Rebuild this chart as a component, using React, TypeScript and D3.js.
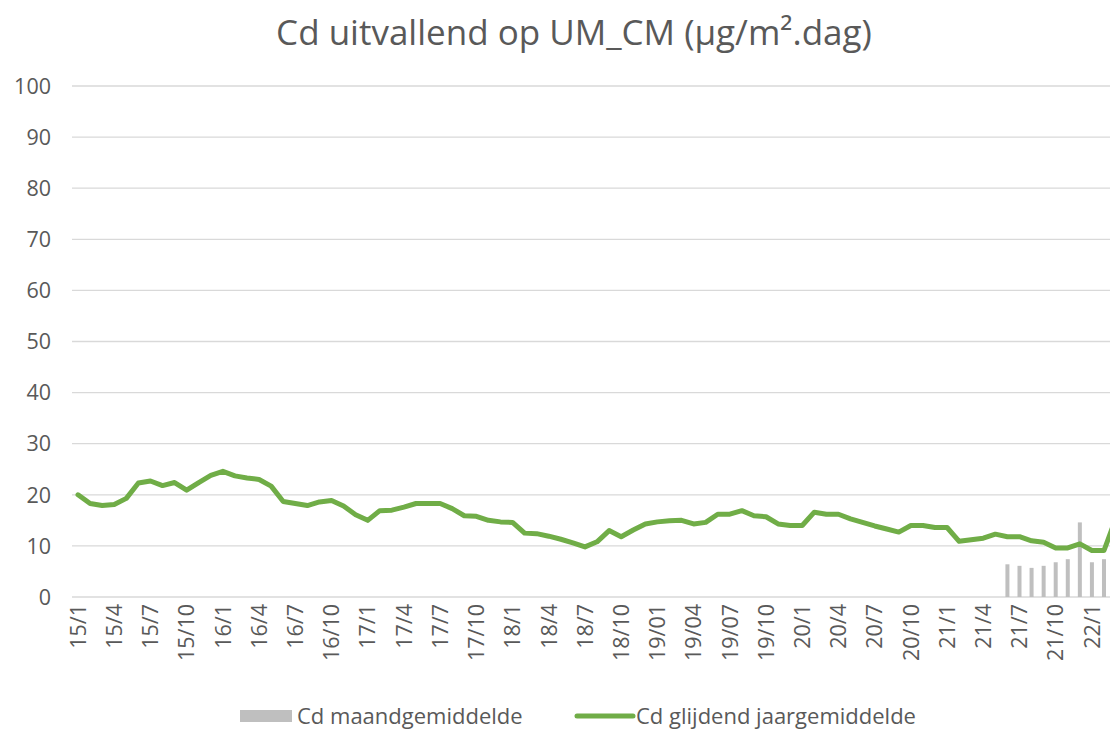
import React from "react";
import * as d3 from "d3";

const categories = [
  "2015-01","2015-02","2015-03","2015-04","2015-05","2015-06","2015-07","2015-08","2015-09","2015-10","2015-11","2015-12",
  "2016-01","2016-02","2016-03","2016-04","2016-05","2016-06","2016-07","2016-08","2016-09","2016-10","2016-11","2016-12",
  "2017-01","2017-02","2017-03","2017-04","2017-05","2017-06","2017-07","2017-08","2017-09","2017-10","2017-11","2017-12",
  "2018-01","2018-02","2018-03","2018-04","2018-05","2018-06","2018-07","2018-08","2018-09","2018-10","2018-11","2018-12",
  "2019-01","2019-02","2019-03","2019-04","2019-05","2019-06","2019-07","2019-08","2019-09","2019-10","2019-11","2019-12",
  "2020-01","2020-02","2020-03","2020-04","2020-05","2020-06","2020-07","2020-08","2020-09","2020-10","2020-11","2020-12",
  "2021-01","2021-02","2021-03","2021-04","2021-05","2021-06","2021-07","2021-08","2021-09","2021-10","2021-11","2021-12",
  "2022-01","2022-02","2022-03",
];

// Cd glijdend jaargemiddelde
const movingAvg = [
  20.0, 18.3, 17.9, 18.1, 19.3, 22.3, 22.7, 21.8, 22.4, 20.9, 22.4, 23.8,
  24.6, 23.7, 23.3, 23.0, 21.7, 18.7, 18.3, 17.9, 18.6, 18.9, 17.8, 16.1,
  15.0, 16.9, 17.0, 17.6, 18.3, 18.3, 18.3, 17.3, 15.9, 15.8, 15.0, 14.7,
  14.6, 12.5, 12.4, 11.9, 11.3, 10.6, 9.8, 10.8, 13.0, 11.8, 13.1, 14.3,
  14.7, 14.9, 15.0, 14.3, 14.6, 16.2, 16.2, 16.9, 15.9, 15.7, 14.3, 14.0,
  14.0, 16.6, 16.2, 16.2, 15.3, 14.6, 13.9, 13.3, 12.7, 14.0, 14.0, 13.6,
  13.6, 10.9, 11.2, 11.5, 12.3, 11.8, 11.8, 11.0, 10.7, 9.6, 9.6, 10.4,
  9.1, 9.1, 15.5,
];

// Cd maandgemiddelde
const barCategories = ["2021-06","2021-07","2021-08","2021-09","2021-10","2021-11","2021-12","2022-01","2022-02"];
const barValues = [6.4, 6.1, 5.7, 6.1, 6.8, 7.4, 14.6, 6.8, 7.4];

const yTicks = [0, 10, 20, 30, 40, 50, 60, 70, 80, 90, 100];

const tickCategories = [
  "2015-01","2015-04","2015-07","2015-10","2016-01","2016-04","2016-07","2016-10",
  "2017-01","2017-04","2017-07","2017-10","2018-01","2018-04","2018-07","2018-10",
  "2019-01","2019-04","2019-07","2019-10","2020-01","2020-04","2020-07","2020-10",
  "2021-01","2021-04","2021-07","2021-10","2022-01",
];
const tickLabels = [
  "15/1","15/4","15/7","15/10","16/1","16/4","16/7","16/10",
  "17/1","17/4","17/7","17/10","18/1","18/4","18/7","18/10",
  "19/01","19/04","19/07","19/10","20/1","20/4","20/7","20/10",
  "21/1","21/4","21/7","21/10","22/1",
];

const title = "Cd uitvallend op UM_CM (µg/m².dag)";
const legendBar = "Cd maandgemiddelde";
const legendLine = "Cd glijdend jaargemiddelde";

export default function App() {
  const W = 1110;
  const H = 729;
  const left = 72;
  const step = 12.07;
  const font = "'Open Sans', 'Noto Sans', sans-serif";
  const textColor = "#595959";

  const x = d3
    .scaleBand<string>()
    .domain(categories)
    .range([left, left + step * categories.length])
    .padding(0);
  const y = d3.scaleLinear().domain([0, 100]).range([597, 86]);
  const cx = (c: string) => (x(c) as number) + x.bandwidth() / 2;

  const line = d3
    .line<number>()
    .x((_, i) => cx(categories[i]))
    .y((d) => y(d));

  const barW = 4;

  return (
    <svg
      width={W}
      height={H}
      style={{ position: "absolute", left: 0, top: 0, background: "#fff" }}
      fontFamily={font}
    >
      <defs>
        <clipPath id="plotClip">
          <rect x={left} y={0} width={W - left} height={H} />
        </clipPath>
      </defs>
      <rect x={0} y={0} width={W} height={H} fill="#fff" />
      <text x={574} y={45} textAnchor="middle" fontSize={35} fill={textColor}>
        {title}
      </text>

      {/* gridlines */}
      {yTicks.map((t) => (
        <line
          key={t}
          x1={left}
          x2={W}
          y1={y(t)}
          y2={y(t)}
          stroke="#d9d9d9"
          strokeWidth={1.3}
        />
      ))}
      {/* y labels */}
      {yTicks.map((t) => (
        <text
          key={"yl" + t}
          x={51}
          y={y(t)}
          dy="0.36em"
          textAnchor="end"
          fontSize={21.5}
          fill={textColor}
        >
          {t}
        </text>
      ))}

      <g clipPath="url(#plotClip)">
        {barCategories.map((c, i) => (
          <rect
            key={c}
            x={cx(c) - barW / 2}
            y={y(barValues[i])}
            width={barW}
            height={y(0) - y(barValues[i])}
            fill="#bfbfbf"
          />
        ))}
        <path
          d={line(movingAvg) || ""}
          fill="none"
          stroke="#70ad47"
          strokeWidth={5}
          strokeLinejoin="round"
          strokeLinecap="round"
        />
      </g>

      {/* x labels */}
      {tickCategories.map((c, i) => (
        <text
          key={c}
          transform={`translate(${cx(c)},604) rotate(-90)`}
          dy="0.36em"
          textAnchor="end"
          fontSize={21.5}
          fill={textColor}
        >
          {tickLabels[i]}
        </text>
      ))}

      {/* legend */}
      <rect x={240} y={710} width={52} height={12} fill="#bfbfbf" />
      <text x={297} y={716} dy="0.36em" fontSize={22} fill={textColor}>
        {legendBar}
      </text>
      <line x1={577} x2={633} y1={716} y2={716} stroke="#70ad47" strokeWidth={5} strokeLinecap="round" />
      <text x={636} y={716} dy="0.36em" fontSize={22} fill={textColor}>
        {legendLine}
      </text>
    </svg>
  );
}
